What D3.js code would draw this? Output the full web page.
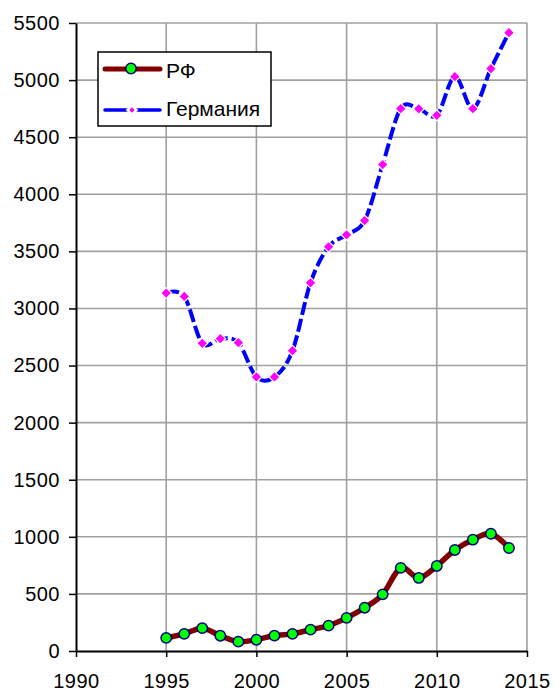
<!DOCTYPE html>
<html><head><meta charset="utf-8">
<script src="https://cdn.jsdelivr.net/npm/d3@7"></script>
<style>body{margin:0;background:#fff;} svg{display:block;}</style>
</head><body>
<svg id="c" width="555" height="695"></svg>
<script>
const years = [1995,1996,1997,1998,1999,2000,2001,2002,2003,2004,2005,2006,2007,2008,2009,2010,2011,2012,2013,2014];
const rf = [115,150,200,134,82,99,135,150,187,222,290,379,496,728,640,745,885,975,1027,902];
const germany = [3135,3105,2695,2735,2700,2400,2400,2630,3225,3540,3645,3770,4260,4750,4748,4692,5030,4750,5100,5415];
const xTicks = [1990,1995,2000,2005,2010,2015];
const yTicks = [0,500,1000,1500,2000,2500,3000,3500,4000,4500,5000,5500];
const seriesNames = ["РФ","Германия"];

const svg = d3.select("#c");
const L=76, R=527, T=23, B=651;
const x = d3.scaleLinear().domain([1990,2015]).range([L,R]);
const y = d3.scaleLinear().domain([0,5500]).range([B,T]);
const font = "'Liberation Sans', Arial, sans-serif";

// gridlines
svg.append("g").selectAll("line").data(yTicks.slice(1)).join("line")
  .attr("x1",L).attr("x2",R).attr("y1",d=>y(d)).attr("y2",d=>y(d))
  .attr("stroke","#a0a0a0").attr("stroke-width",1.6);
svg.append("g").selectAll("line").data(xTicks.slice(1)).join("line")
  .attr("y1",T).attr("y2",B).attr("x1",d=>x(d)).attr("x2",d=>x(d))
  .attr("stroke","#a0a0a0").attr("stroke-width",1.6);

// axes
const yAxis = d3.axisLeft(y).tickValues(yTicks).tickFormat(d3.format("d")).tickSize(7).tickPadding(9).tickSizeOuter(0);
const gy = svg.append("g").attr("transform",`translate(${L},0)`).call(yAxis);
const xAxis = d3.axisBottom(x).tickValues(xTicks).tickFormat(d3.format("d")).tickSize(6).tickPadding(17).tickSizeOuter(0);
const gx = svg.append("g").attr("transform",`translate(0,${B})`).call(xAxis);
[gx,gy].forEach(g=>{
  g.select(".domain").attr("stroke","#000").attr("stroke-width",2);
  g.selectAll(".tick line").attr("stroke","#000").attr("stroke-width",1.5);
  g.selectAll(".tick text").attr("fill","#000").style("font-family",font)
    .style("font-size","20px").style("letter-spacing","0.5px");
});

const line = d3.line().curve(d3.curveCatmullRom.alpha(0)).x((d,i)=>x(years[i])).y(d=>y(d));

// Germany
svg.append("path").datum(germany).attr("d",line).attr("fill","none")
  .attr("stroke","#0000ff").attr("stroke-width",4).attr("stroke-dasharray","13,4");
const diamond = d3.symbol().type(d3.symbolSquare).size(60);
svg.append("g").selectAll("path").data(germany).join("path")
  .attr("d",diamond).attr("transform",(d,i)=>`translate(${x(years[i])},${y(d)}) rotate(45)`)
  .attr("fill","#ff00ff").attr("stroke","#fff").attr("stroke-width",1.2);

// RF
svg.append("path").datum(rf).attr("d",line).attr("fill","none")
  .attr("stroke","#800000").attr("stroke-width",5.5);
svg.append("g").selectAll("circle").data(rf).join("circle")
  .attr("cx",(d,i)=>x(years[i])).attr("cy",d=>y(d)).attr("r",5.2)
  .attr("fill","#00ff00").attr("stroke","#000080").attr("stroke-width",1.5);

// legend
const lg = svg.append("g");
lg.append("rect").attr("x",98).attr("y",52).attr("width",173).attr("height",74)
  .attr("fill","#fff").attr("stroke","#000").attr("stroke-width",1.5);
lg.append("line").attr("x1",105).attr("x2",160).attr("y1",69).attr("y2",69)
  .attr("stroke","#800000").attr("stroke-width",5).attr("stroke-linecap","round");
lg.append("circle").attr("cx",131).attr("cy",68.5).attr("r",5.2)
  .attr("fill","#00ff00").attr("stroke","#000080").attr("stroke-width",1.5);
lg.append("line").attr("x1",105).attr("x2",160).attr("y1",110).attr("y2",110)
  .attr("stroke","#0000ff").attr("stroke-width",3.5).attr("stroke-linecap","round");
lg.append("path").attr("d",d3.symbol().type(d3.symbolSquare).size(40)).attr("transform","translate(132,110) rotate(45)")
  .attr("fill","#ff00ff").attr("stroke","#fff").attr("stroke-width",2.5);
lg.selectAll("text").data(seriesNames).join("text")
  .attr("x",166).attr("y",(d,i)=>[78,116][i]).text(d=>d)
  .style("font-family",font).style("font-size","21px").attr("fill","#000");
</script>
</body></html>
